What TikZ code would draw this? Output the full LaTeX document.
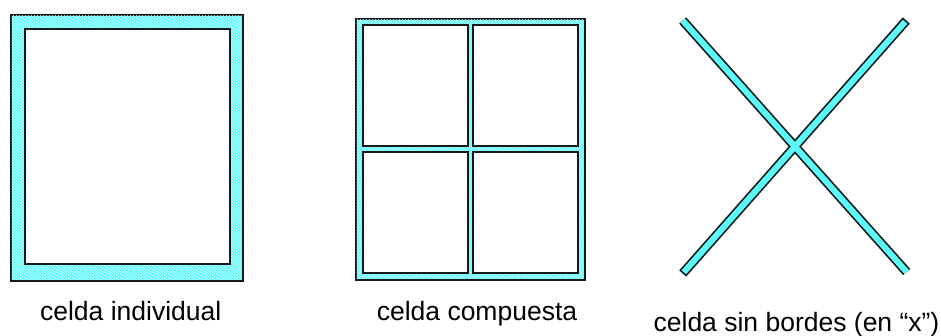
\documentclass[tikz,border=0pt]{standalone}
\usepackage{fontspec}
\setmainfont{Liberation Sans}
\usetikzlibrary{patterns}
\definecolor{wallcyan}{RGB}{90, 250, 250}
\definecolor{wallline}{RGB}{20, 25, 25}

\begin{document}
\begin{tikzpicture}[x=1pt, y=-1pt,
    lbl/.style={anchor=base, inner sep=0pt, font=\fontsize{26.5}{29}\selectfont},
    wallband/.style={fill=wallcyan, draw=wallline, line width=2pt},
    hatch/.style={pattern=north east lines, pattern color=white!80!wallcyan},
    cellbox/.style={fill=white, draw=wallline, line width=2pt}]
        \useasboundingbox (0,0) rectangle (941,335);

        % celda individual
        \draw[wallband] (10.5,14.5) rectangle (242.5,280.5);
        \fill[hatch] (11.5,15.5) rectangle (241.5,279.5);
        \draw[cellbox] (24.5,29) rectangle (229.5,264);
        \node[lbl] (lblind) at (130.7,320) {celda individual};

        % celda compuesta
        \draw[wallband] (355.5,18.5) rectangle (584.5,279.5);
        \fill[hatch] (356.5,19.5) rectangle (583.5,278.5);
        \foreach \xa/\xb/\ya/\yb in {363/468/25/146, 473/578/25/146, 363/468/152/273, 473/578/152/273} {
            \draw[cellbox] (\xa,\ya) rectangle (\xb,\yb);
        }
        \node[lbl] (lblcomp) at (477,320) {celda compuesta};

        % celda sin bordes
        \coordinate (xtl) at (682.7,20.5);
        \coordinate (xbr) at (906.7,272);
        \coordinate (xtr) at (906.3,20.5);
        \coordinate (xbl) at (682.7,273.5);
        \draw[wallline, line width=9.4pt] (xtl) -- (xbr) (xtr) -- (xbl);
        \draw[wallcyan, line width=6pt, shorten <=1.7pt, shorten >=1.7pt] (xtl) -- (xbr) (xtr) -- (xbl);
        \node[lbl] (lblx) at (796.5,331) {celda sin bordes (en “x”)};

    \end{tikzpicture}
\end{document}
